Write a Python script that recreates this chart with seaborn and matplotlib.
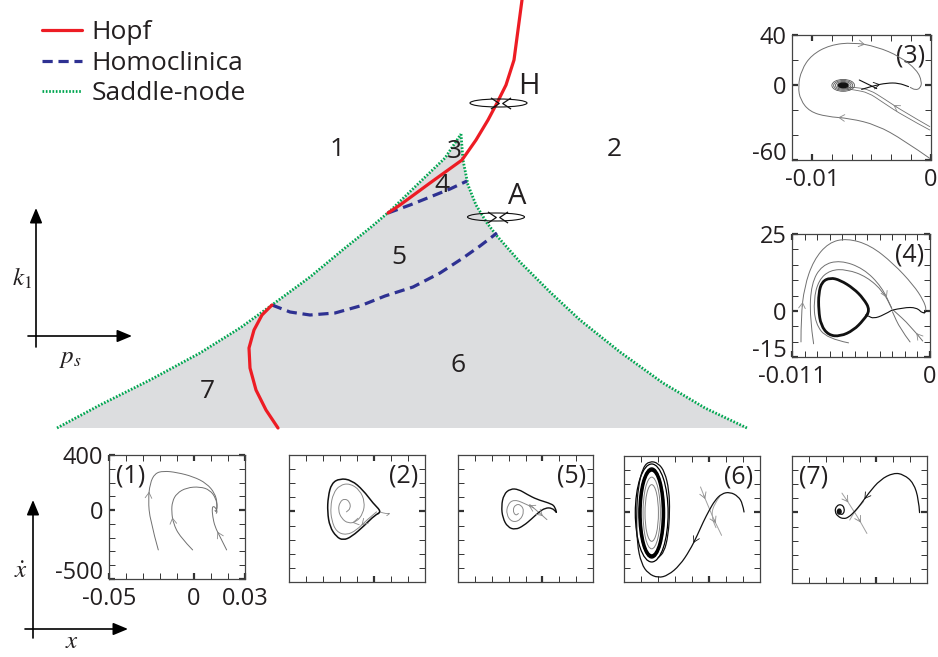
import numpy as np
import matplotlib
matplotlib.use("Agg")
import matplotlib.pyplot as plt
import seaborn as sns
from matplotlib.path import Path
from matplotlib.patches import PathPatch, Ellipse

# ---------------- parameter plane (p_s horizontal, k1 vertical, arbitrary units) ----------------
sn_left_ps = [57, 100, 150, 200, 240, 272, 310, 345, 370, 390, 420, 445, 461]
sn_left_k1 = [229, 252, 277, 304, 329, 352, 380, 409, 429, 446, 475, 499, 523]
sn_right_ps = [461, 463, 468, 476, 487, 497, 520, 550, 580, 620, 663, 705, 747]
sn_right_k1 = [523, 497, 472, 452, 434, 421, 395, 365, 337, 305, 274, 249, 229]
hopf_upper_ps = [522, 518, 514, 506, 497, 488, 476, 462, 430, 400, 388]
hopf_upper_k1 = [657, 627, 597, 572, 554, 537, 517, 497, 474, 452, 444]
hopf_lower_ps = [272, 262, 254, 249, 250, 256, 266, 278]
hopf_lower_k1 = [352, 342, 327, 309, 289, 267, 247, 229]
homo_upper_ps = [388, 410, 430, 450, 467]
homo_upper_k1 = [444, 452, 460, 468, 476]
homo_lower_ps = [272, 290, 310, 335, 360, 385, 413, 440, 463, 480, 497]
homo_lower_k1 = [352, 345, 342, 344, 351, 361, 370, 384, 399, 411, 424]

region_names = ["1", "2", "3", "4", "5", "6", "7"]
region_ps = [337, 614, 454, 442, 399, 458, 207]
region_k1 = [507, 507, 506, 472, 399, 292, 265]

# codimension-two points: label, centre of the small orbit sketch
cod2_names = ["H", "A"]
cod2_ps = [498.5, 496]
cod2_k1 = [554, 440]
cod2_label_ps = [529, 517]
cod2_label_k1 = [571, 461]

legend_labels = ["Hopf", "Homoclinica", "Saddle-node"]

# ---------------- phase portraits (x, x_dot) ----------------
# (1)
p1_a_x = [-0.0210, -0.0259, -0.0269, -0.0259, -0.0230, -0.0180, -0.0102, -0.0004, 0.0074, 0.0123, 0.0137, 0.0133, 0.0123]
p1_a_y = [-289, -72, 73, 194, 267, 284, 274, 243, 194, 122, 49, -11, -4]
p1_b_x = [-0.0008, -0.0083, -0.0122, -0.0132, -0.0128, -0.0102, -0.0043, 0.0035, 0.0094, 0.0129, 0.0137, 0.0129]
p1_b_y = [-289, -193, -96, -11, 61, 122, 163, 170, 146, 85, 25, -11]
p1_c_x = [0.0192, 0.0153, 0.0123, 0.0110, 0.0106, 0.0114, 0.0129, 0.0137, 0.0131]
p1_c_y = [-289, -193, -120, -48, 13, 30, 13, -11, -23]

# (2)
p2_cycle_x = [0.0045, -0.0005, -0.0064, -0.0132, -0.0201, -0.0250, -0.0270, -0.0274, -0.0260, -0.0221, -0.0182, -0.0132, -0.0054, 0.0005]
p2_cycle_y = [-3, 57, 151, 222, 234, 199, 104, -3, -109, -180, -204, -180, -97, -26]
p2_spiral_x = [0.0015, -0.0044, -0.0103, -0.0162, -0.0221, -0.0250, -0.0256, -0.0240, -0.0201, -0.0142, -0.0083, -0.0054,
               -0.0064, -0.0103, -0.0152, -0.0191, -0.0211, -0.0201, -0.0172, -0.0142, -0.0138, -0.0162]
p2_spiral_y = [-3, -62, -133, -168, -145, -62, 33, 128, 187, 199, 151, 68, -14, -74, -85, -50, 9, 68, 92, 68, 21, -3]
p2_tail_x = [0.0035, 0.0070, 0.0098, 0.0075]
p2_tail_y = [-3, -19, -10, -30]

# (5)
p5_loop_x = [0.0083, 0.0077, 0.0037, -0.0032, -0.0091, -0.0141, -0.0190, -0.0229, -0.0243, -0.0235, -0.0206, -0.0160,
             -0.0111, -0.0062, -0.0022, 0.0017, 0.0057, 0.0083]
p5_loop_y = [-6, 37, 61, 85, 121, 157, 161, 121, 37, -46, -111, -130, -101, -51, -6, 25, 25, -6]
p5_stable_x = [-0.0075, -0.0022, 0.0027]
p5_stable_y = [49, -6, -58]
p5_spiral_x = [-0.0052, -0.0111, -0.0170, -0.0206, -0.0214, -0.0180, -0.0131, -0.0107, -0.0127, -0.0160, -0.0176, -0.0160, -0.0142]
p5_spiral_y = [25, 61, 85, 49, -22, -77, -63, 1, 49, 49, 9, -30, -15]

# (6)
p6_orbit_x = [0.0206, 0.0198, 0.0172, 0.0123, 0.0074, 0.0035, 0.0001, -0.0034, -0.0069, -0.0113, -0.0172, -0.0240, -0.0299,
              -0.0358, -0.0398, -0.0423, -0.0427, -0.0417, -0.0388, -0.0349, -0.0299, -0.0260, -0.0235, -0.0231, -0.0240,
              -0.0264, -0.0299]
p6_orbit_y = [0, 60, 112, 143, 131, 83, 12, -71, -167, -274, -381, -452, -471, -440, -369, -226, -12, 179, 321, 364, 350,
              286, 155, 0, -167, -286, -326]
p6_cycle_centre = (-0.0337, -7)
p6_cycle_w = [0.0193, 0.0151, 0.0138, 0.0130, 0.0102, 0.0079]
p6_cycle_h = [700, 643, 625, 605, 512, 405]
p6_cycle_col = ["black", "black", "black", "black", "grey", "grey"]
p6_cycle_lw = [0.9, 1.0, 1.6, 1.6, 0.7, 0.7]
p6_man1_x = [-0.0050, 0.0005, 0.0074]
p6_man1_y = [179, 7, -167]
p6_man2_x = [0.0064, 0.0025, 0.0015, 0.0041]
p6_man2_y = [112, 48, -36, -112]

# (7)
p7_orbit_x = [0.0256, 0.0251, 0.0221, 0.0162, 0.0102, 0.0023, -0.0046, -0.0095, -0.0129, -0.0164, -0.0194, -0.0227,
              -0.0247, -0.0237, -0.0208, -0.0188, -0.0194, -0.0214, -0.0224]
p7_orbit_y = [-1, 90, 209, 269, 281, 233, 137, 54, 6, -34, -46, -30, 6, 47, 59, 30, -11, -15, 9]
p7_focus = (-0.0220, 6)
p7_man1_x = [-0.0204, -0.0129, -0.0056]
p7_man1_y = [137, 6, -149]
p7_man2_x = [-0.0075, -0.0129, -0.0158]
p7_man2_y = [78, 6, -54]

# (3)
p3_outer_x = [-0.0001, -0.002306, -0.004555, -0.006804, -0.008772, -0.010177, -0.010964, -0.011161, -0.010880, -0.010036,
              -0.008490, -0.006523, -0.004555, -0.002588, -0.001182, -0.000761, -0.000901, -0.001322, -0.001744]
p3_outer_y = [-58.7, -44, -32, -26.7, -25.3, -21.3, -12, -1.3, 12, 24, 32, 34.1, 30.7, 22.7, 12, 2.7, -2.7, -4, -1.9]
p3_in1_x = [-0.0001, -0.002306, -0.003993, -0.005117, -0.006242, -0.007085]
p3_in1_y = [-33.3, -21.3, -10.7, -4, -1.9, -1.9]
p3_in2_x = [-0.0001, -0.002306, -0.004134, -0.005258, -0.006383, -0.007224]
p3_in2_y = [-36, -24.8, -13.3, -6.1, -4, -2.9]
p3_out1_x = [-0.006017, -0.004977, -0.004555]
p3_out1_y = [4, -0.8, -2.9]
p3_out2_x = [-0.005820, -0.004836, -0.003711, -0.002728, -0.001884]
p3_out2_y = [-3.5, -0.6, 1.6, 1.6, -1.3]
p3_focus = (-0.00737, -0.3)
p3_ring_w = [0.0019, 0.0016, 0.0013, 0.0010]
p3_ring_h = [9.5, 7.8, 6.2, 4.8]

# (4)
p4_cycle_x = [-0.00477, -0.005300, -0.006096, -0.007156, -0.007951, -0.008614, -0.008879, -0.008879, -0.008694, -0.008084,
              -0.007156, -0.006096, -0.005300]
p4_cycle_y = [0.22, 4.0, 7.3, 10.0, 10.8, 9.5, 5.7, 0.2, -4.7, -7.9, -8.3, -6.3, -3.0]
p4_o1_x = [-0.010284, -0.010284, -0.010019, -0.009277, -0.008084, -0.006626, -0.004770, -0.002915, -0.001324, -0.000529,
           -0.000263, -0.000476]
p4_o1_y = [-10.1, -2.0, 7.8, 16.5, 22.2, 23.6, 21.4, 15.4, 8.4, 3.5, 0.2, -0.9]
p4_o2_x = [-0.009277, -0.009595, -0.009462, -0.008614, -0.007156, -0.005300, -0.003842, -0.003047]
p4_o2_y = [-10.7, -2.0, 8.9, 14.9, 16.5, 13.8, 7.8, 0.8]
p4_o3_x = [-0.006493, -0.008216, -0.009144, -0.009277, -0.008879, -0.007951, -0.006626, -0.005035, -0.003710, -0.003047]
p4_o3_y = [-10.4, -9.0, -4.1, 3.5, 10.0, 13.3, 13.5, 11.1, 6.2, 0.8]
p4_s1_x = [-0.001589, -0.002385, -0.002994]
p4_s1_y = [-10.1, -5.8, -0.3]
p4_s2_x = [-0.000582, -0.001589, -0.002915]
p4_s2_y = [-9.8, -4.7, 0.2]
p4_u1_x = [-0.003047, -0.003710, -0.004505, -0.004903]
p4_u1_y = [0.2, -1.4, -2.5, -1.7]
p4_u2_x = [-0.003047, -0.002119, -0.001059, -0.000582, -0.000263]
p4_u2_y = [0.2, 1.1, 1.1, -0.9, 0.0]

# ---------------- style ----------------
sns.set_theme(style="white")
plt.rcParams["font.family"] = ["Open Sans", "DejaVu Sans"]
plt.rcParams["mathtext.fontset"] = "stix"
plt.rcParams["axes.unicode_minus"] = False

TXT = "#231f20"
RED = "#ed1c24"
BLUE = "#2e3192"
GREEN = "#00a651"
FILL = "#dcdddf"
GREY = "#8a8a8a"
BLK = "#111111"

fig = plt.figure(figsize=(9.38, 6.57), dpi=100)
ax = fig.add_axes([0, 0, 1, 1])
ax.set_xlim(0, 938)
ax.set_ylim(0, 657)
ax.axis("off")

# stable-equilibrium region between the saddle-node branches
ax.fill(np.concatenate([sn_left_ps, sn_right_ps]), np.concatenate([sn_left_k1, sn_right_k1]),
        color=FILL, lw=0, zorder=1)


def curve(xs, ys, color, lw, zorder):
    sns.lineplot(x=xs, y=ys, sort=False, estimator=None, color=color, lw=lw, ax=ax, zorder=zorder)
    return ax.lines[-1]


sn1 = curve(sn_left_ps, sn_left_k1, GREEN, 2.0, 3)
sn2 = curve(sn_right_ps, sn_right_k1, GREEN, 2.0, 3)
for ln in (sn1, sn2):
    ln.set_linestyle((0, (0.6, 0.6)))
hm1 = curve(homo_upper_ps, homo_upper_k1, BLUE, 2.3, 4)
hm2 = curve(homo_lower_ps, homo_lower_k1, BLUE, 2.3, 4)
for ln in (hm1, hm2):
    ln.set_linestyle((0, (3.2, 1.8)))
hp1 = curve(hopf_upper_ps, hopf_upper_k1, RED, 2.3, 5)
hp2 = curve(hopf_lower_ps, hopf_lower_k1, RED, 2.3, 5)

ax.legend([hp1, hm1, sn1], legend_labels, loc="upper left", bbox_to_anchor=(0.0448, 0.969),
          frameon=False, fontsize=19, handlelength=1.5, handletextpad=0.38, labelspacing=0.21,
          borderaxespad=0, borderpad=0, labelcolor=TXT)

for name, xp, yp in zip(region_names, region_ps, region_k1):
    ax.text(xp, yp, name, fontsize=19, color=TXT, ha="center", va="center", zorder=6)

# small orbit sketches at the codimension-two points
chev_r = Path([(-1, 1), (0.5, 0), (-1, -1)])
chev_l = Path([(1, 1), (-0.5, 0), (1, -1)])
for name, xp, yp, lx, ly in zip(cod2_names, cod2_ps, cod2_k1, cod2_label_ps, cod2_label_k1):
    ax.add_patch(Ellipse((xp, yp), 57, 8, fill=False, ec=BLK, lw=0.8, zorder=7))
    ax.plot([xp - 3], [yp], marker=chev_r, ms=8, mfc="none", mec=BLK, mew=0.9, zorder=8)
    ax.plot([xp + 6], [yp], marker=chev_l, ms=8, mfc="none", mec=BLK, mew=0.9, zorder=8)
    ax.text(lx, ly, name, fontsize=21, color=TXT, ha="center", va="center", zorder=6)

# coordinate sketches
arrow_kw = dict(arrowstyle="-|>,head_length=0.6,head_width=0.25", color="black", lw=1.2,
                mutation_scale=15, shrinkA=0, shrinkB=0)
ax.annotate("", xy=(36, 449), xytext=(36, 310), arrowprops=arrow_kw)
ax.annotate("", xy=(132, 321), xytext=(28, 321), arrowprops=arrow_kw)
ax.text(22, 378, r"$k_1$", fontsize=18, color=TXT, ha="center", va="center")
ax.text(70, 300, r"$p_s$", fontsize=18, color=TXT, ha="center", va="center")
ax.annotate("", xy=(33, 157), xytext=(33, 19), arrowprops=arrow_kw)
ax.annotate("", xy=(128, 28), xytext=(25, 28), arrowprops=arrow_kw)
ax.text(21, 86, r"$\dot{x}$", fontsize=18, color=TXT, ha="center", va="center")
ax.text(72, 15, r"$x$", fontsize=18, color=TXT, ha="center", va="center")


# ---------------- inset helpers ----------------
def smooth(a, xs, ys, closed=False, color=GREY, lw=0.6, zorder=3):
    pts = np.column_stack([xs, ys]).astype(float)
    if closed:
        mids = (pts + np.roll(pts, -1, axis=0)) / 2
        verts = [mids[-1]]
        codes = [Path.MOVETO]
        for i in range(len(pts)):
            verts += [pts[i], mids[i]]
            codes += [Path.CURVE3, Path.CURVE3]
    else:
        verts = [pts[0]]
        codes = [Path.MOVETO]
        for i in range(1, len(pts) - 1):
            verts += [pts[i], (pts[i] + pts[i + 1]) / 2]
            codes += [Path.CURVE3, Path.CURVE3]
        verts.append(pts[-1])
        codes.append(Path.LINETO)
    a.add_patch(PathPatch(Path(verts, codes), fill=False, ec=color, lw=lw, zorder=zorder,
                          capstyle="round", joinstyle="round"))


def arrowhead(a, xs, ys, i, color=GREY):
    mx, my = (xs[i] + xs[i + 1]) / 2, (ys[i] + ys[i + 1]) / 2
    dx, dy = xs[i + 1] - xs[i], ys[i + 1] - ys[i]
    a.annotate("", xy=(mx, my), xytext=(mx - 0.15 * dx, my - 0.15 * dy),
               arrowprops=dict(arrowstyle="->,head_length=0.5,head_width=0.3", color=color, lw=0.6,
                               mutation_scale=8, shrinkA=0, shrinkB=0), zorder=4)


def inset(rect_px, xlim, ylim, xminor, yminor, xmajor, ymajor, xlabels, ylabels, tag, tag_pos):
    l, t, r, b = rect_px
    a = fig.add_axes([l / 938, 1 - b / 657, (r - l) / 938, (b - t) / 657])
    a.set_xlim(*xlim)
    a.set_ylim(*ylim)
    a.set_facecolor("white")
    a.set_xticks(xminor, minor=True)
    a.set_yticks(yminor, minor=True)
    a.set_xticks(xmajor)
    a.set_yticks(ymajor)
    a.set_xticklabels(xlabels)
    a.set_yticklabels(ylabels)
    a.tick_params(which="both", direction="in", top=True, right=True, bottom=True, left=True,
                  length=4, width=0.7, color="#333333")
    a.tick_params(which="major", width=1.6, labelsize=17, labelcolor=TXT)
    a.tick_params(axis="x", which="major", pad=6)
    a.tick_params(axis="y", which="major", pad=4)
    if ylabels:
        # lowest value label sits on the corner so it clears the x labels
        a.get_yticklabels()[0].set_va("baseline")
    for s in a.spines.values():
        s.set_color("#444444")
        s.set_linewidth(0.9)
    a.grid(False)
    a.text(tag_pos[0], tag_pos[1], tag, transform=a.transAxes, fontsize=18, color=TXT,
           ha="left" if tag_pos[0] < 0.5 else "right", va="top")
    return a


bx_lim = (-0.05, 0.03)
by_lim = (-500, 400)
bx_minor = np.arange(-0.05, 0.0301, 0.01)
by_minor = np.arange(-500, 401, 100)

# (1)
a1 = inset((109, 455, 245, 579), bx_lim, by_lim, bx_minor, by_minor, [-0.05, 0, 0.03], [-500, 0, 400],
           ["-0.05", "0", "0.03"], ["-500", "0", "400"], "(1)", (0.05, 0.93))
for xs, ys, k in ((p1_a_x, p1_a_y, 2), (p1_b_x, p1_b_y, 2), (p1_c_x, p1_c_y, 1)):
    smooth(a1, xs, ys, color="#707070", lw=0.7)
    arrowhead(a1, xs, ys, k)

# (2)
a2 = inset((289, 455, 425, 582), bx_lim, by_lim, bx_minor, by_minor, [0], [0], [], [], "(2)", (0.95, 0.93))
smooth(a2, p2_spiral_x, p2_spiral_y, color=GREY, lw=0.7)
smooth(a2, p2_tail_x, p2_tail_y, color=GREY, lw=0.6)
smooth(a2, p2_cycle_x, p2_cycle_y, closed=True, color=BLK, lw=1.1)
arrowhead(a2, p2_spiral_x, p2_spiral_y, 1)
arrowhead(a2, p2_spiral_x, p2_spiral_y, 13)

# (5)
a5 = inset((458, 455, 593, 582), bx_lim, by_lim, bx_minor, by_minor, [0], [0], [], [], "(5)", (0.95, 0.93))
smooth(a5, p5_spiral_x, p5_spiral_y, color=GREY, lw=0.7)
smooth(a5, p5_stable_x, p5_stable_y, color=GREY, lw=0.7)
smooth(a5, p5_loop_x, p5_loop_y, color=BLK, lw=1.0)
arrowhead(a5, p5_spiral_x, p5_spiral_y, 0)
arrowhead(a5, p5_stable_x, p5_stable_y, 1)

# (6)
a6 = inset((624, 456, 760, 582), bx_lim, by_lim, bx_minor, by_minor, [0], [0], [], [], "(6)", (0.95, 0.93))
for w, h, c, lw in zip(p6_cycle_w, p6_cycle_h, p6_cycle_col, p6_cycle_lw):
    a6.add_patch(Ellipse(p6_cycle_centre, w, h, fill=False, ec=c, lw=lw, zorder=3))
smooth(a6, p6_man1_x, p6_man1_y, color="#a0a0a0", lw=0.7)
smooth(a6, p6_man2_x, p6_man2_y, color="#a0a0a0", lw=0.7)
smooth(a6, p6_orbit_x, p6_orbit_y, color=BLK, lw=0.9)
arrowhead(a6, p6_man1_x, p6_man1_y, 0)
arrowhead(a6, p6_man1_x, p6_man1_y, 1)
arrowhead(a6, p6_orbit_x, p6_orbit_y, 8, color=BLK)

# (7)
a7 = inset((792, 456, 927, 583), bx_lim, by_lim, bx_minor, by_minor, [0], [0], [], [], "(7)", (0.05, 0.93))
smooth(a7, p7_man1_x, p7_man1_y, color="#a0a0a0", lw=0.7)
smooth(a7, p7_man2_x, p7_man2_y, color="#a0a0a0", lw=0.7)
smooth(a7, p7_orbit_x, p7_orbit_y, color=BLK, lw=0.9)
a7.add_patch(Ellipse(p7_focus, 0.0022, 35, color=BLK, zorder=4))
arrowhead(a7, p7_man1_x, p7_man1_y, 0)
arrowhead(a7, p7_man1_x, p7_man1_y, 1)
arrowhead(a7, p7_orbit_x, p7_orbit_y, 6, color=BLK)

# (3)
x3_min = -0.07 / 6
a3 = inset((792, 35, 931, 160), (x3_min, 0), (-60, 40), np.linspace(x3_min, 0, 8), np.arange(-60, 41, 20),
           [-0.01, 0], [-60, 0, 40], ["-0.01", "0"], ["-60", "0", "40"], "(3)", (0.96, 0.93))
smooth(a3, p3_outer_x, p3_outer_y, color="#707070", lw=0.7)
smooth(a3, p3_in1_x, p3_in1_y, color="#707070", lw=0.6)
smooth(a3, p3_in2_x, p3_in2_y, color="#707070", lw=0.6)
smooth(a3, p3_out1_x, p3_out1_y, color=BLK, lw=0.8)
smooth(a3, p3_out2_x, p3_out2_y, color=BLK, lw=0.8)
for w, h in zip(p3_ring_w, p3_ring_h):
    a3.add_patch(Ellipse(p3_focus, w, h, fill=False, ec="#555555", lw=0.6, zorder=3))
a3.add_patch(Ellipse(p3_focus, 0.0008, 3.6, color=BLK, zorder=4))
arrowhead(a3, p3_outer_x, p3_outer_y, 11)
arrowhead(a3, p3_outer_x, p3_outer_y, 3)
arrowhead(a3, p3_in1_x, p3_in1_y, 1)
arrowhead(a3, p3_out2_x, p3_out2_y, 1, color=BLK)

# (4)
a4 = inset((792, 234, 930, 357), (-0.011, 0), (-15, 25), np.arange(-0.011, 0.00001, 0.001), np.arange(-15, 26, 5),
           [-0.011, 0], [-15, 0, 25], ["-0.011", "0"], ["-15", "0", "25"], "(4)", (0.96, 0.93))
for xs, ys in ((p4_o1_x, p4_o1_y), (p4_o2_x, p4_o2_y), (p4_o3_x, p4_o3_y), (p4_s1_x, p4_s1_y), (p4_s2_x, p4_s2_y)):
    smooth(a4, xs, ys, color="#707070", lw=0.7)
smooth(a4, p4_u1_x, p4_u1_y, color=BLK, lw=0.8)
smooth(a4, p4_u2_x, p4_u2_y, color=BLK, lw=0.8)
smooth(a4, p4_cycle_x, p4_cycle_y, closed=True, color=BLK, lw=2.0)
arrowhead(a4, p4_o1_x, p4_o1_y, 1)
arrowhead(a4, p4_o2_x, p4_o2_y, 6)
arrowhead(a4, p4_s2_x, p4_s2_y, 0)

fig.savefig("out.png", dpi=100)
